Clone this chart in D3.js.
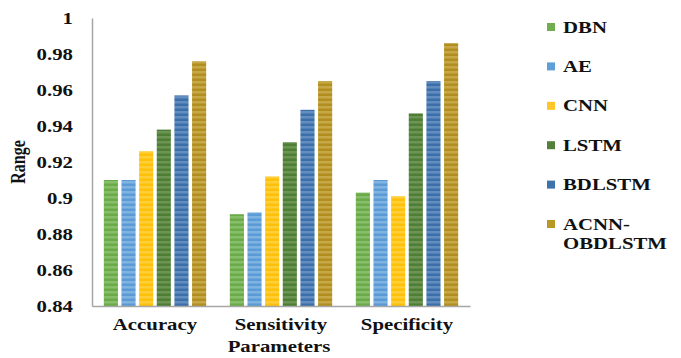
<!DOCTYPE html>
<html>
<head>
<meta charset="utf-8">
<script src="https://cdn.jsdelivr.net/npm/d3@7"></script>
<style>
  html, body { margin: 0; padding: 0; background: #fff; }
  svg { display: block; }
  text { font-family: "Liberation Serif", "Times New Roman", Times, "DejaVu Serif", serif; font-weight: bold; fill: #111; }
</style>
</head>
<body>
<svg id="chart" width="681" height="358"></svg>
<script>
// Metric groups along the x axis
const categories = ["Accuracy", "Sensitivity", "Specificity"];
// Models compared
const series = ["DBN", "AE", "CNN", "LSTM", "BDLSTM", "ACNN-OBDLSTM"];
// Scores per model, one value per metric group
const dbn    = [0.910, 0.891, 0.903];
const ae     = [0.910, 0.892, 0.910];
const cnn    = [0.926, 0.912, 0.901];
const lstm   = [0.938, 0.931, 0.947];
const bdlstm = [0.957, 0.949, 0.965];
const acnn   = [0.976, 0.965, 0.986];
const seriesValues = [dbn, ae, cnn, lstm, bdlstm, acnn];
// Y axis ticks and their labels
const yTicks = [0.84, 0.86, 0.88, 0.9, 0.92, 0.94, 0.96, 0.98, 1];
const yTickLabels = ["0.84", "0.86", "0.88", "0.9", "0.92", "0.94", "0.96", "0.98", "1"];

const baseColors   = ["#6aaa48", "#5b9bd5", "#ffc107", "#4e7d34", "#3b6fa9", "#b28e1f"];
const stripeColors = ["#9fcd86", "#9fc6ea", "#ffd862", "#84a76e", "#81a6d0", "#d8bd6b"];
const swatchColors = ["#72ad4f", "#5f9fd8", "#ffc629", "#53803a", "#3d72ab", "#b89724"];

const FONT = "'Liberation Serif', 'Times New Roman', Times, 'DejaVu Serif', serif";
const svg = d3.select("#chart");
const plot = { left: 92, right: 470, top: 18, bottom: 306 };
const sx = 1.3; // horizontal text widening

const x0 = d3.scaleBand().domain(categories).range([plot.left, plot.right]);
const x1 = d3.scaleBand().domain(series).range([0, x0.bandwidth()])
  .paddingInner(0.2).paddingOuter(0.67);
const y = d3.scaleLinear().domain([0.84, 1]).range([plot.bottom, plot.top]);

// Striped fills for the bars
const defs = svg.append("defs");
series.forEach((s, i) => {
  const p = defs.append("pattern")
    .attr("id", "stripe" + i)
    .attr("patternUnits", "userSpaceOnUse")
    .attr("width", 10).attr("height", 5);
  p.append("rect").attr("width", 10).attr("height", 5).attr("fill", baseColors[i]);
  p.append("rect").attr("y", 1).attr("width", 10).attr("height", 2.5)
    .attr("fill", stripeColors[i]).attr("opacity", 0.55);
});

// Bars
const rows = categories.map((c, ci) => ({ cat: c, vals: series.map((s, si) => ({ s, si, v: seriesValues[si][ci] })) }));
const groups = svg.append("g").selectAll("g").data(rows).join("g")
  .attr("transform", d => `translate(${x0(d.cat)},0)`);
groups.selectAll("rect").data(d => d.vals).join("rect")
  .attr("x", d => x1(d.s))
  .attr("width", x1.bandwidth())
  .attr("y", d => y(d.v))
  .attr("height", d => y(0.84) - y(d.v))
  .attr("fill", d => `url(#stripe${d.si})`);

// Y axis
const yAxis = svg.append("g")
  .attr("transform", `translate(${plot.left},0)`)
  .call(d3.axisLeft(y).tickValues(yTicks).tickSize(0).tickPadding(0)
    .tickFormat((d, i) => yTickLabels[i]));
yAxis.attr("font-family", null);
yAxis.select(".domain").attr("stroke", "#a6a6a6").attr("stroke-width", 1.5);
yAxis.selectAll("text")
  .attr("x", -19 / sx)
  .attr("dy", "0.34em")
  .attr("transform", `scale(${sx},1)`)
  .style("font-family", FONT)
  .style("font-weight", "bold")
  .style("font-size", "16px")
  .attr("fill", "#111");

// X axis
const xAxis = svg.append("g")
  .attr("transform", `translate(0,${plot.bottom})`)
  .call(d3.axisBottom(x0).tickSize(0).tickPadding(0));
xAxis.attr("font-family", null);
xAxis.select(".domain").attr("stroke", "#a6a6a6").attr("stroke-width", 1.5);
xAxis.selectAll("text")
  .attr("y", 24).attr("dy", 0).attr("x", 0)
  .attr("transform", `scale(${sx},1)`)
  .style("font-family", FONT)
  .style("font-weight", "bold")
  .style("font-size", "16px")
  .attr("fill", "#111");

// Axis titles
svg.append("text")
  .attr("transform", `translate(${(plot.left + plot.right) / 2 - 2},352) scale(${sx},1)`)
  .attr("text-anchor", "middle")
  .style("font-size", "16px")
  .text("Parameters");

svg.append("text")
  .attr("transform", `translate(25,${(plot.top + plot.bottom) / 2}) rotate(-90) scale(1,${sx})`)
  .attr("text-anchor", "middle")
  .style("font-size", "16px")
  .text("Range");

// Legend
const legend = svg.append("g").attr("transform", "translate(547,27)");
const legendLines = [["DBN"], ["AE"], ["CNN"], ["LSTM"], ["BDLSTM"], ["ACNN-", "OBDLSTM"]];
const item = legend.selectAll("g").data(series).join("g")
  .attr("transform", (d, i) => `translate(0,${i * 39.4})`);
item.append("rect")
  .attr("x", 0).attr("y", -4).attr("width", 8).attr("height", 8)
  .attr("fill", (d, i) => swatchColors[i]);
item.each(function (d, i) {
  const t = d3.select(this).append("text")
    .attr("transform", `translate(16,0) scale(${sx},1)`)
    .style("font-size", "16px");
  legendLines[i].forEach((ln, k) => {
    t.append("tspan").attr("x", 0).attr("y", 5.5 + k * 19.5).text(ln);
  });
});
</script>
</body>
</html>
